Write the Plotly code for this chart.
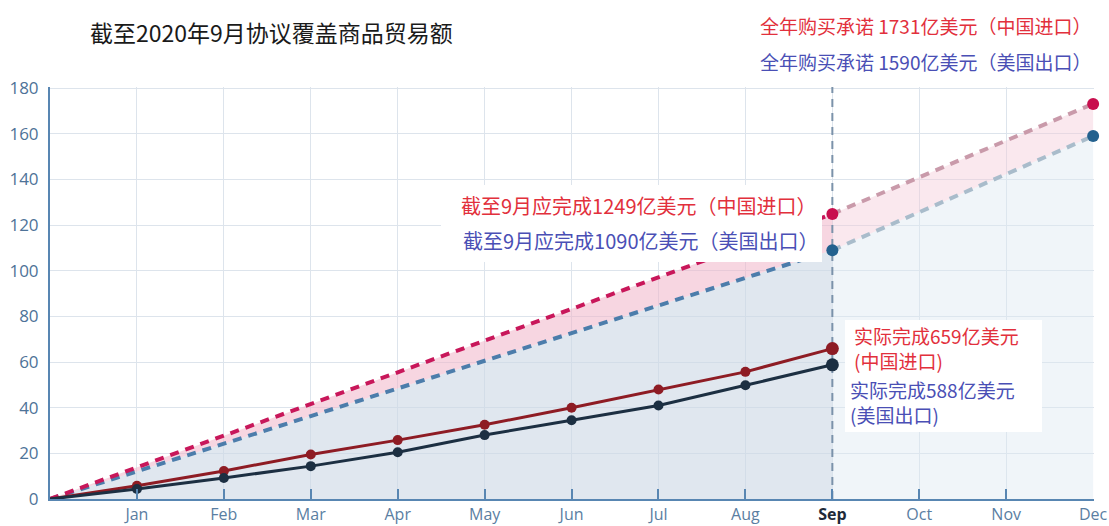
import plotly.graph_objects as go

# Month positions (0 = start of year) and tick labels
months = [0, 1, 2, 3, 4, 5, 6, 7, 8, 9]
tick_vals = [1, 2, 3, 4, 5, 6, 7, 8, 9, 10, 11, 12]
tick_text = ["Jan", "Feb", "Mar", "Apr", "May", "Jun", "Jul", "Aug",
             "<b><span style='color:#1e2a38'>Sep</span></b>", "Oct", "Nov", "Dec"]

# Committed purchase paths (十亿美元): start -> Sep -> Dec
target_x = [0, 9]
target_rest_x = [9, 12]
china_target = [0, 124.9]
china_target_rest = [124.9, 173.1]
us_target = [0, 109.0]
us_target_rest = [109.0, 159.0]

# Actual cumulative trade, Jan..Sep
china_actual = [0, 5.8, 12.3, 19.5, 25.8, 32.5, 40.0, 48.0, 55.7, 65.9]
us_actual = [0, 4.4, 9.2, 14.4, 20.5, 28.0, 34.5, 41.0, 49.8, 58.8]

# September reference line
sep_x = [9, 9]
sep_y = [0, 182]

RED_TXT = "#e2303c"
BLUE_TXT = "#4a4fb5"
FONT = "Noto Sans CJK SC"

# plot area in pixels
L, R, T, B = 50, 1094, 87, 499


def px(xp):
    return (xp - L) / (R - L)


def py(yp):
    return (B - yp) / (B - T)


fig = go.Figure()

# Shaded areas up to September
fig.add_trace(go.Scatter(x=target_x, y=us_target, mode="lines",
                         line=dict(width=0), fill="tozeroy",
                         fillcolor="rgba(205,216,229,0.62)", hoverinfo="skip"))
fig.add_trace(go.Scatter(x=target_x, y=china_target, mode="lines",
                         line=dict(width=0), fill="tonexty",
                         fillcolor="rgba(240,180,200,0.55)", hoverinfo="skip"))
# Shaded areas after September
fig.add_trace(go.Scatter(x=target_rest_x, y=us_target_rest, mode="lines",
                         line=dict(width=0), fill="tozeroy",
                         fillcolor="rgba(222,232,242,0.45)", hoverinfo="skip"))
fig.add_trace(go.Scatter(x=target_rest_x, y=china_target_rest, mode="lines",
                         line=dict(width=0), fill="tonexty",
                         fillcolor="rgba(244,205,218,0.45)", hoverinfo="skip"))

# September dashed guide
fig.add_trace(go.Scatter(x=sep_x, y=sep_y, mode="lines", cliponaxis=False,
                         line=dict(color="#7b92aa", width=2, dash="8px,6px")))

# Dashed commitment lines
dash = "9px,7px"
fig.add_trace(go.Scatter(x=target_x, y=us_target, mode="lines",
                         line=dict(color="#4c7dab", width=4, dash=dash)))
fig.add_trace(go.Scatter(x=target_x, y=china_target, mode="lines",
                         line=dict(color="#c8175a", width=4, dash=dash)))
fig.add_trace(go.Scatter(x=target_rest_x, y=us_target_rest, mode="lines",
                         line=dict(color="#a9bccb", width=4, dash=dash)))
fig.add_trace(go.Scatter(x=target_rest_x, y=china_target_rest, mode="lines",
                         line=dict(color="#c99aaa", width=4, dash=dash)))

# Endpoint markers on commitment lines
fig.add_trace(go.Scatter(x=target_rest_x, y=china_target_rest, mode="markers",
                         cliponaxis=False,
                         marker=dict(color="#c80f4e", size=12, opacity=1,
                                     line=dict(width=0))))
fig.add_trace(go.Scatter(x=target_rest_x, y=us_target_rest, mode="markers",
                         cliponaxis=False,
                         marker=dict(color="#23618e", size=12, opacity=1,
                                     line=dict(width=0))))

# Actual lines
sizes = [0] + [10] * 8 + [13]
fig.add_trace(go.Scatter(x=months, y=china_actual, mode="lines+markers",
                         line=dict(color="#8e1c24", width=3),
                         marker=dict(color="#8e1c24", size=sizes, opacity=1,
                                     line=dict(width=0))))
fig.add_trace(go.Scatter(x=months, y=us_actual, mode="lines+markers",
                         line=dict(color="#1c2f42", width=3),
                         marker=dict(color="#1c2f42", size=sizes, opacity=1,
                                     line=dict(width=0))))

# White boxes behind the in-plot labels
fig.add_shape(type="rect", xref="paper", yref="paper",
              x0=px(441), x1=px(822), y0=py(262), y1=py(185),
              fillcolor="white", line=dict(width=0), layer="above")
fig.add_shape(type="rect", xref="paper", yref="paper",
              x0=px(845), x1=px(1042), y0=py(432), y1=py(320),
              fillcolor="white", line=dict(width=0), layer="above")

labels = [
    ("截至2020年9月协议覆盖商品贸易额", 88, 32, "#1a1a1a", 23),
    ("全年购买承诺 1731亿美元（中国进口）", 758, 25, RED_TXT, 19),
    ("全年购买承诺 1590亿美元（美国出口）", 758, 62, BLUE_TXT, 19),
    ("截至9月应完成1249亿美元（中国进口）", 459, 205, RED_TXT, 20),
    ("截至9月应完成1090亿美元（美国出口）", 461, 241, BLUE_TXT, 20),
    ("实际完成659亿美元<br>(中国进口)", 852, 348, RED_TXT, 19),
    ("实际完成588亿美元<br>(美国出口)", 848, 402, BLUE_TXT, 19),
]
for text, x, y, color, size in labels:
    fig.add_annotation(text=text, xref="paper", yref="paper",
                       x=px(x), y=py(y), xanchor="left", yanchor="middle",
                       showarrow=False, align="left",
                       font=dict(family=FONT, size=size, color=color))

fig.update_layout(
    width=1109, height=526,
    margin=dict(l=L, r=1109 - R, t=T, b=526 - B),
    paper_bgcolor="white", plot_bgcolor="white",
    showlegend=False,
    font=dict(family="Open Sans", color="#5a7ea2"),
)
fig.update_xaxes(
    range=[0, 12.01], tickvals=tick_vals, ticktext=tick_text,
    showgrid=True, gridcolor="#dde4ec", gridwidth=1,
    showline=True, linecolor="#5886b2", linewidth=2,
    ticks="inside", ticklen=10, tickwidth=2, tickcolor="#5886b2",
    tickfont=dict(size=16, color="#5a7ea2"), zeroline=False,
    ticklabelstandoff=0, automargin=False, ticklabeloverflow="allow",
)
fig.update_yaxes(
    range=[0, 180.5], tickvals=list(range(0, 181, 20)),
    showgrid=True, gridcolor="#dde4ec", gridwidth=1,
    showline=True, linecolor="#5886b2", linewidth=2,
    ticks="", tickfont=dict(size=17, color="#4e7398"), zeroline=False,
    ticklabelstandoff=6, automargin=False,
)

fig.write_html("out.html")
